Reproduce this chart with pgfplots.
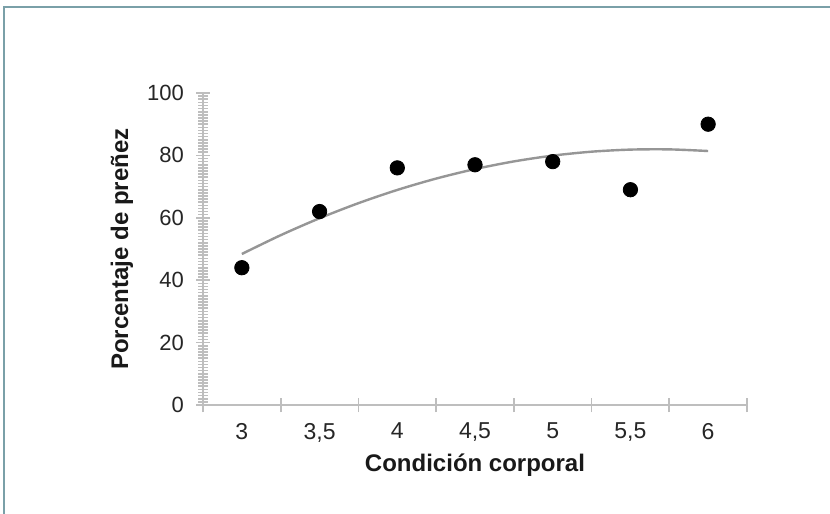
\documentclass[border=0pt]{standalone}
\usepackage{pgfplots}
\pgfplotsset{compat=1.18}
\usepackage{fontspec}
\setmainfont{Liberation Sans}
\definecolor{framec}{RGB}{122,160,168}
\definecolor{axisgray}{RGB}{190,190,190}
\definecolor{trendgray}{RGB}{150,150,150}
\begin{document}
\begin{tikzpicture}
\useasboundingbox (0,0) rectangle (415pt,257pt);
\fill[white] (0,0) rectangle (415pt,257pt);
\draw[framec, line width=0.9pt] (2pt,0) -- (2pt,253.5pt) -- (415pt,253.5pt);
\begin{axis}[
  at={(101.5pt,54.5pt)}, anchor=south west,
  scale only axis, width=272pt, height=156pt,
  xmin=-0.5, xmax=6.5, ymin=0, ymax=100,
  axis lines=left,
  axis line style={-, draw=axisgray, line width=1pt},
  tick align=center,
  major tick length=7pt, minor tick length=5pt,
  every tick/.style={draw=axisgray, line width=0.8pt},
  xtick={-0.5,0.5,...,6.5}, xticklabels={},
  extra x ticks={0,1,2,3,4,5,6},
  extra x tick labels={3,{3,5},4,{4,5},5,{5,5},6},
  extra x tick style={tick style={draw=none}, tick label style={yshift=-2pt, font=\fontsize{11.5pt}{13pt}\selectfont}},
  ytick={0,20,40,60,80,100},
  minor y tick num=19,
  yticklabel style={xshift=-2.5pt, font=\fontsize{11pt}{13pt}\selectfont},
  tick label style={text=black!85},
  /pgf/number format/assume math mode=true,
  xlabel={Condición corporal},
  ylabel={Porcentaje de preñez},
  label style={font=\fontsize{12pt}{14pt}\selectfont\bfseries, text=black!90},
  xlabel style={at={(axis description cs:0.5,-0.192)}, anchor=center},
  ylabel style={at={(axis description cs:-0.149,0.5)}, anchor=center},
  clip=false,
]
\addplot[trendgray, line width=1.2pt, smooth, no marks] coordinates {
 (0,48.405) (0.5,54.429) (1,59.857) (1.5,64.690) (2,68.929) (2.5,72.571)
 (3,75.619) (3.5,78.071) (4,79.929) (4.5,81.190) (5,81.857) (5.5,81.929) (6,81.405)
};
\addplot[only marks, mark=*, mark size=3.6pt, black] coordinates {
 (0,44) (1,62) (2,76) (3,77) (4,78) (5,69) (6,90)
};
\end{axis}
\end{tikzpicture}
\end{document}
